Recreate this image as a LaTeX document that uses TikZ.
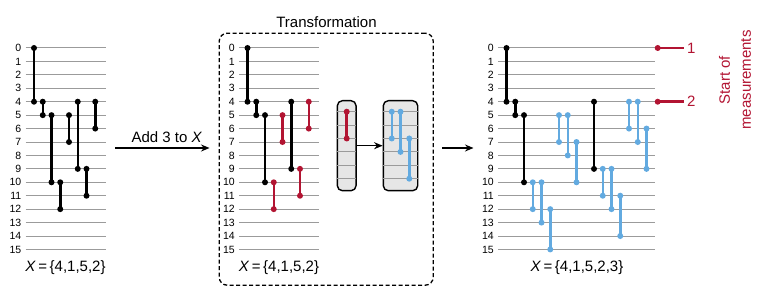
\documentclass[tikz,border=0pt]{standalone}
\usepackage{fontspec}
\setmainfont{Liberation Sans}
\usetikzlibrary{arrows.meta,calc}
\definecolor{gatered}{RGB}{178,20,50}
\definecolor{gateblue}{RGB}{98,170,224}
\definecolor{wiregray}{RGB}{155,155,155}
\definecolor{boxgray}{RGB}{230,230,230}
\def\dy{13.43}
\def\dx{8.75}

\begin{document}
\begin{tikzpicture}[x=1pt,y=-1pt,>={Stealth[length=8.5pt,width=7pt]},line join=round,
  wire/.style={wiregray,line width=1pt},
  gate/.style={line width=2.5pt},
  rowlab/.style={anchor=east,inner sep=0pt,font=\fontsize{10.5}{12}\selectfont},
  biglab/.style={font=\fontsize{15}{21}\selectfont},
  colbox/.style={draw=black,line width=1.4pt,fill=boxgray,rounded corners=5pt,
    minimum width=#1,minimum height=90pt,inner sep=0pt}]
  \useasboundingbox (0,0) rectangle (763,288);
  \foreach \px/\len/\nm in {34/8.2/one,247.5/8.2/two,506.5/17/three}{
    \foreach \r in {0,...,15}{
      \draw[wire] (\px-8.5,48+\r*\dy) -- (\px+\len*\dx,48+\r*\dy);
      \node[rowlab] (lab\nm\r) at (\px-12.5,48+\r*\dy) {\r};
    }
  }
  \foreach \c/\a/\b/\col in {0/0/4/black,1/4/5/black,2/5/10/black,3/10/12/black,
    4/5/7/black,5/4/9/black,6/9/11/black,7/4/6/black}{
    \draw[gate,\col] (34+\c*\dx,48+\a*\dy) -- (34+\c*\dx,48+\b*\dy);
    \fill[\col] (34+\c*\dx,48+\a*\dy) circle (3pt) (34+\c*\dx,48+\b*\dy) circle (3pt);
  }
  \foreach \c/\a/\b/\col in {0/0/4/black,1/4/5/black,2/5/10/black,3/10/12/gatered,
    4/5/7/gatered,5/4/9/black,6/9/11/gatered,7/4/6/gatered}{
    \draw[gate,\col] (247.5+\c*\dx,48+\a*\dy) -- (247.5+\c*\dx,48+\b*\dy);
    \fill[\col] (247.5+\c*\dx,48+\a*\dy) circle (3pt) (247.5+\c*\dx,48+\b*\dy) circle (3pt);
  }
  \foreach \c/\a/\b/\col in {0/0/4/black,1/4/5/black,2/5/10/black,3/10/12/gateblue,
    4/10/13/gateblue,5/12/15/gateblue,6/5/7/gateblue,7/5/8/gateblue,8/7/10/gateblue,
    10/4/9/black,11/9/11/gateblue,12/9/12/gateblue,13/11/14/gateblue,14/4/6/gateblue,
    15/4/7/gateblue,16/6/9/gateblue}{
    \draw[gate,\col] (506.5+\c*\dx,48+\a*\dy) -- (506.5+\c*\dx,48+\b*\dy);
    \fill[\col] (506.5+\c*\dx,48+\a*\dy) circle (3pt) (506.5+\c*\dx,48+\b*\dy) circle (3pt);
  }
  \node[biglab] (xone) at (65.5,267.5) {\textit{X}\,=\,\{4,1,5,2\}};
  \node[biglab] (xtwo) at (279,267.5) {\textit{X}\,=\,\{4,1,5,2\}};
  \node[biglab] (xthree) at (577,267.5) {\textit{X}\,=\,\{4,1,5,2,3\}};
  \node[draw,dash pattern=on 4pt off 2.5pt,line width=1.3pt,rounded corners=8pt,minimum width=214pt,
    minimum height=252pt,inner sep=0pt] (tbox) at (326.2,159.2) {};
  \node[biglab] (ttl) at (326.5,21.7) {Transformation};
  \coordinate (a1s) at (115,148);
  \draw[->,line width=1.4pt,shorten >=9pt] (a1s) -- (a1s -| tbox.west)
    node[biglab,midway,above=1pt] (addlab) {Add 3 to \textit{X}};
  \coordinate (p3in) at (473.5,148);
  \draw[->,line width=1.4pt,shorten <=8.4pt] (tbox.east |- p3in) -- (p3in);
  \node[colbox=18.7pt] (boxA) at (346.7,145.7) {};
  \node[colbox=34.4pt] (boxB) at (400.5,145.7) {};
  \foreach \k in {0,...,5}{
    \draw[wire] ([xshift=0.7pt]boxA.west |- 0,111.7+\k*13.4) -- ([xshift=-0.7pt]boxA.east |- 0,111.7+\k*13.4);
    \draw[wire] ([xshift=0.7pt]boxB.west |- 0,111.7+\k*13.4) -- ([xshift=-0.7pt]boxB.east |- 0,111.7+\k*13.4);
  }
  \draw[gate,gatered] (346.7,111.7) -- (346.7,138.5);
  \fill[gatered] (346.7,111.7) circle (3pt) (346.7,138.5) circle (3pt);
  \foreach \c/\a/\b in {-1/0/2,0/0/3,1/2/5}{
    \draw[gate,gateblue] (400.5+\c*\dx,111.7+\a*13.4) -- (400.5+\c*\dx,111.7+\b*13.4);
    \fill[gateblue] (400.5+\c*\dx,111.7+\a*13.4) circle (3pt) (400.5+\c*\dx,111.7+\b*13.4) circle (3pt);
  }
  \draw[->,line width=1.4pt] (boxA.east) -- (boxB.west);
  \foreach \r/\t in {0/1,4/2}{
    \coordinate (m\t) at (657.7,48+\r*\dy);
    \node[biglab,text=gatered,anchor=west,inner sep=1pt] (mk\t) at (686,48+\r*\dy) {\t};
    \draw[gate,gatered,shorten >=2pt] (m\t) -- (mk\t.west);
    \fill[gatered] (m\t) circle (3pt);
  }
  \node[biglab,text=gatered,rotate=90,align=center] (startlab) at (735,80) {Start of\\measurements};
\end{tikzpicture}
\end{document}
